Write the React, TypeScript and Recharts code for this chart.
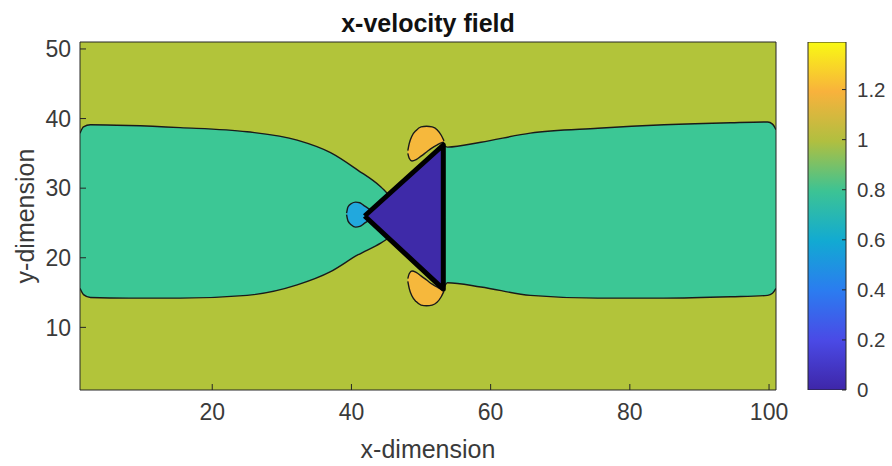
import React from 'react';
import { ComposedChart, BarChart, Bar, Area, Scatter, XAxis, YAxis } from 'recharts';

// axis ticks
const xTicks = [20, 40, 60, 80, 100];
const yTicks = [10, 20, 30, 40, 50];
const cbarTicks = [0, 0.2, 0.4, 0.6, 0.8, 1, 1.2];
const cbarMax = 1.39;

// contour fills (parula-ish)
const C_BG = '#b2c43a';
const C_TEAL = '#3cc795';
const C_ORANGE = '#f6b83c';
const C_CYAN = '#22a8dd';
const C_BODY = '#3e2aa8';
const cbarColors = ['#3e26a8', '#4a4ae6', '#2b7cf0', '#12aad2', '#3cc394', '#b0bf40', '#f8b23c', '#f9f914'];

// domain box (free stream ~1.0 level)
const bgX = [1, 101];
const bgLow = [1, 1];
const bgHigh = [51, 51];

// 0.8 band upstream of the body
const leftBandX = [1, 1.5, 2.5, 8, 15.4, 25.0, 32.2, 37.0, 40.9, 44.2, 45.3];
const leftBandLow = [15.6, 14.7, 14.3, 14.2, 14.2, 14.6, 16.1, 18.0, 20.4, 22.1, 22.8];
const leftBandHigh = [37.9, 38.8, 39.1, 39.0, 38.7, 38.1, 36.9, 35.1, 32.6, 30.2, 29.1];

// 0.8 band in the wake
const rightBandX = [53.2, 53.8, 58.6, 65.7, 75.4, 84.9, 94.5, 99.8, 100.5, 101];
const rightBandLow = [15.5, 16.4, 15.8, 14.6, 14.2, 14.2, 14.4, 14.6, 14.9, 15.6];
const rightBandHigh = [36.2, 35.9, 36.6, 37.9, 38.6, 39.1, 39.4, 39.5, 39.2, 38.4];

// stagnation pocket in front of the tip
const tipX = [39.3, 39.5, 40.0, 40.6, 41.2, 41.8, 42.4, 43.0];
const tipLow = [26.2, 25.3, 24.7, 24.4, 24.5, 24.9, 25.3, 25.5];
const tipHigh = [26.4, 27.3, 27.8, 28.0, 27.9, 27.5, 27.1, 26.7];

// 1.2 lobes at the corners
const upperLobeX = [48.1, 48.3, 48.7, 49.3, 50.0, 50.8, 51.6, 52.3, 52.9, 53.3];
const upperLobeLow = [35.0, 34.3, 33.9, 34.1, 34.6, 35.2, 35.8, 36.2, 36.5, 36.6];
const upperLobeHigh = [35.4, 36.4, 37.5, 38.3, 38.8, 38.9, 38.8, 38.4, 37.6, 36.8];

const lowerLobeX = [48.1, 48.3, 48.7, 49.3, 50.0, 50.8, 51.6, 52.3, 52.9, 53.3];
const lowerLobeLow = [16.6, 15.6, 14.5, 13.7, 13.2, 13.1, 13.2, 13.6, 14.4, 15.2];
const lowerLobeHigh = [17.0, 17.7, 18.1, 17.9, 17.4, 16.8, 16.2, 15.8, 15.5, 15.4];

// the obstacle (velocity 0)
const bodyX = [41.9, 53.2];
const bodyLow = [26.0, 15.5];
const bodyHigh = [26.0, 36.2];
const outlineX = [41.9, 53.2, 53.2, 41.9];
const outlineY = [26.0, 36.2, 15.5, 26.0];

const range = (xs: number[], lo: number[], hi: number[]) =>
  xs.map((x, i) => ({ x, v: [lo[i], hi[i]] }));

const outline = outlineX.map((x, i) => ({ x, y: outlineY[i] }));

const AXIS = '#262626';
const TEXT = '#3a3a3a';

const Nothing = () => <g />;

export default function App() {
  const areaCommon = {
    dataKey: 'v',
    fillOpacity: 1,
    isAnimationActive: false,
    dot: false,
    activeDot: false,
  } as const;

  return (
    <div
      style={{
        position: 'absolute',
        left: 0,
        top: 0,
        width: 892,
        height: 466,
        background: '#fff',
        fontFamily: '"Liberation Sans", Arial, Helvetica, sans-serif',
      }}
    >
      <div style={{ position: 'absolute', left: 0, top: 0 }}>
        <ComposedChart width={892} height={466} margin={{ top: 41, right: 115, bottom: 4, left: 0 }}>
          <XAxis
            dataKey="x"
            type="number"
            domain={[1, 101]}
            ticks={xTicks}
            allowDataOverflow
            height={72}
            stroke={AXIS}
            tickSize={-6}
            tickMargin={20}
            tick={{ fontSize: 23, fill: TEXT }}
            label={{ value: 'x-dimension', position: 'insideBottom', offset: 4, fontSize: 25, fill: TEXT }}
          />
          <XAxis
            xAxisId="top"
            orientation="top"
            dataKey="x"
            type="number"
            domain={[1, 101]}
            ticks={xTicks}
            allowDataOverflow
            height={1}
            stroke={AXIS}
            tickSize={-6}
            tick={false}
            label={{ value: 'x-velocity field', position: 'top', offset: 9, fontSize: 25, fontWeight: 'bold', fill: '#111' }}
          />
          <YAxis
            dataKey="y"
            type="number"
            domain={[1, 51]}
            ticks={yTicks}
            allowDataOverflow
            width={80}
            stroke={AXIS}
            tickSize={-6}
            tickMargin={15}
            tick={{ fontSize: 23, fill: TEXT }}
            label={{
              value: 'y-dimension',
              angle: -90,
              position: 'insideLeft',
              offset: 25,
              fontSize: 25,
              fill: TEXT,
              style: { textAnchor: 'middle' },
            }}
          />
          <YAxis
            yAxisId="right"
            orientation="right"
            dataKey="y"
            type="number"
            domain={[1, 51]}
            ticks={yTicks}
            allowDataOverflow
            width={1}
            stroke={AXIS}
            tickSize={-6}
            tick={false}
          />

          <Area {...areaCommon} data={range(bgX, bgLow, bgHigh)} type="linear" fill={C_BG} stroke="none" />
          <Area
            {...areaCommon}
            data={range(leftBandX, leftBandLow, leftBandHigh)}
            type="monotone"
            fill={C_TEAL}
            stroke="#1a1a1a"
            strokeWidth={1.4}
          />
          <Area
            {...areaCommon}
            data={range(rightBandX, rightBandLow, rightBandHigh)}
            type="monotone"
            fill={C_TEAL}
            stroke="#1a1a1a"
            strokeWidth={1.4}
          />
          <Area
            {...areaCommon}
            data={range(tipX, tipLow, tipHigh)}
            type="monotone"
            fill={C_CYAN}
            stroke="#1a1a1a"
            strokeWidth={1.4}
          />
          <Area
            {...areaCommon}
            data={range(upperLobeX, upperLobeLow, upperLobeHigh)}
            type="monotone"
            fill={C_ORANGE}
            stroke="#1a1a1a"
            strokeWidth={1.4}
          />
          <Area
            {...areaCommon}
            data={range(lowerLobeX, lowerLobeLow, lowerLobeHigh)}
            type="monotone"
            fill={C_ORANGE}
            stroke="#1a1a1a"
            strokeWidth={1.4}
          />
          <Area {...areaCommon} data={range(bodyX, bodyLow, bodyHigh)} type="linear" fill={C_BODY} stroke="none" />
          <Scatter
            data={outline}
            fill="#000"
            shape={Nothing}
            line={{ stroke: '#000', strokeWidth: 5, strokeLinejoin: 'round' }}
            lineType="joint"
            isAnimationActive={false}
          />
        </ComposedChart>
      </div>

      <div style={{ position: 'absolute', left: 0, top: 0 }}>
        <BarChart
          width={892}
          height={466}
          data={[{ name: 'cbar', v: cbarMax }]}
          margin={{ top: 42, right: 1, bottom: 76, left: 808 }}
          barCategoryGap={0}
          barGap={0}
        >
          <defs>
            <linearGradient id="parula" x1="0" y1="1" x2="0" y2="0">
              {cbarColors.map((c, i) => (
                <stop key={c} offset={i / (cbarColors.length - 1)} stopColor={c} />
              ))}
            </linearGradient>
          </defs>
          <XAxis dataKey="name" hide />
          <YAxis
            orientation="right"
            type="number"
            domain={[0, cbarMax]}
            ticks={cbarTicks}
            allowDataOverflow
            width={45}
            axisLine={false}
            stroke={AXIS}
            tickSize={-4}
            tickMargin={15}
            tick={{ fontSize: 20.5, fill: TEXT, textAnchor: 'start' }}
          />
          <Bar dataKey="v" fill="url(#parula)" stroke={AXIS} strokeWidth={1} isAnimationActive={false} />
        </BarChart>
      </div>
    </div>
  );
}
